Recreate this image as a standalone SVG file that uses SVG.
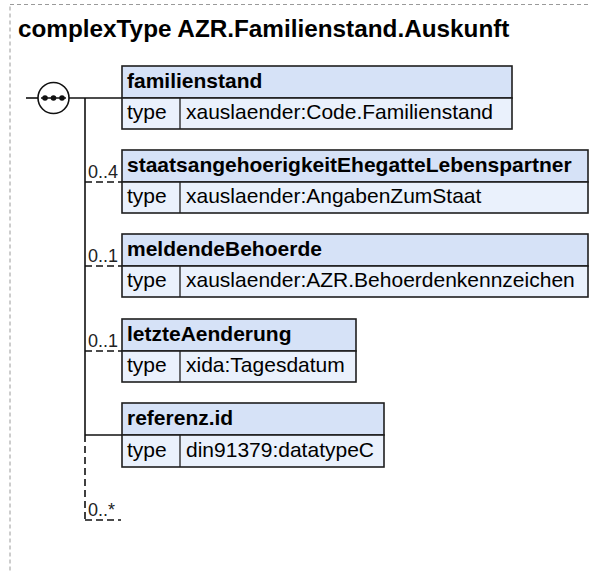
<svg xmlns="http://www.w3.org/2000/svg" width="590" height="573" viewBox="0 0 590 573">
<style>
text{font-family:"Liberation Sans",Arial,sans-serif;fill:#000}
.title{font-size:24.3px;font-weight:bold}
.hd{fill:#D6E2F7;stroke:#1f1f1f;stroke-width:1.6}
.tr{fill:#EAF1FC;stroke:#1f1f1f;stroke-width:1.6}
.col{stroke:#1f1f1f;stroke-width:1.3}
.name{font-size:21px;font-weight:bold}
.val{font-size:21px}
.lbl{font-size:18px;fill:#222}
.ln{stroke:#111;stroke-width:1.6;fill:none}
.dl{stroke:#111;stroke-width:1.6;fill:none;stroke-dasharray:7,4}
</style>
<rect x="10" y="4.5" width="600" height="600" fill="none" stroke="#9a9a9a" stroke-width="1" stroke-dasharray="4,3"/>
<text class="title" x="18" y="37">complexType AZR.Familienstand.Auskunft</text>
<g id="connectors">
<line class="ln" x1="26" y1="98" x2="38" y2="98"/>
<line class="ln" x1="69" y1="98" x2="122" y2="98"/>
<line class="ln" x1="85" y1="98" x2="85" y2="435"/>
<line class="dl" x1="85" y1="182" x2="122" y2="182"/>
<line class="dl" x1="85" y1="266" x2="122" y2="266"/>
<line class="dl" x1="85" y1="351" x2="122" y2="351"/>
<line class="ln" x1="85" y1="435" x2="122" y2="435"/>
<line class="dl" x1="85" y1="435" x2="85" y2="520"/>
<line class="dl" x1="85" y1="520" x2="121" y2="520"/>
<text class="lbl" x="88" y="178">0..4</text>
<text class="lbl" x="88" y="262">0..1</text>
<text class="lbl" x="88" y="347">0..1</text>
<text class="lbl" x="88" y="516">0..*</text>
</g>
<g id="sequence">
<circle cx="53.5" cy="98" r="15.5" fill="#fff" stroke="#111" stroke-width="1.6"/>
<line x1="41" y1="98" x2="66" y2="98" stroke="#111" stroke-width="1.5"/>
<circle cx="45" cy="98" r="2.8" fill="#111"/>
<circle cx="53.5" cy="98" r="2.8" fill="#111"/>
<circle cx="62" cy="98" r="2.8" fill="#111"/>
</g>
<g id="familienstand">
<rect class="hd" x="122" y="66" width="390" height="32"/>
<rect class="tr" x="122" y="98" width="390" height="31"/>
<line class="col" x1="180" y1="98" x2="180" y2="129"/>
<text class="name" x="127" y="88">familienstand</text>
<text class="val" x="127" y="119">type</text>
<text class="val" x="186" y="119">xauslaender:Code.Familienstand</text>
</g>
<g id="staatsangehoerigkeitEhegatteLebenspartner">
<rect class="hd" x="122" y="150" width="466" height="32"/>
<rect class="tr" x="122" y="182" width="466" height="31"/>
<line class="col" x1="180" y1="182" x2="180" y2="213"/>
<text class="name" x="127" y="172">staatsangehoerigkeitEhegatteLebenspartner</text>
<text class="val" x="127" y="203">type</text>
<text class="val" x="186" y="203">xauslaender:AngabenZumStaat</text>
</g>
<g id="meldendeBehoerde">
<rect class="hd" x="122" y="234" width="466" height="32"/>
<rect class="tr" x="122" y="266" width="466" height="31"/>
<line class="col" x1="180" y1="266" x2="180" y2="297"/>
<text class="name" x="127" y="256">meldendeBehoerde</text>
<text class="val" x="127" y="287">type</text>
<text class="val" x="186" y="287">xauslaender:AZR.Behoerdenkennzeichen</text>
</g>
<g id="letzteAenderung">
<rect class="hd" x="122" y="319" width="234" height="32"/>
<rect class="tr" x="122" y="351" width="234" height="31"/>
<line class="col" x1="180" y1="351" x2="180" y2="382"/>
<text class="name" x="127" y="341">letzteAenderung</text>
<text class="val" x="127" y="372">type</text>
<text class="val" x="186" y="372">xida:Tagesdatum</text>
</g>
<g id="referenz.id">
<rect class="hd" x="122" y="403" width="262" height="32"/>
<rect class="tr" x="122" y="435" width="262" height="32"/>
<line class="col" x1="180" y1="435" x2="180" y2="467"/>
<text class="name" x="127" y="425">referenz.id</text>
<text class="val" x="127" y="457">type</text>
<text class="val" x="186" y="457">din91379:datatypeC</text>
</g>
</svg>
